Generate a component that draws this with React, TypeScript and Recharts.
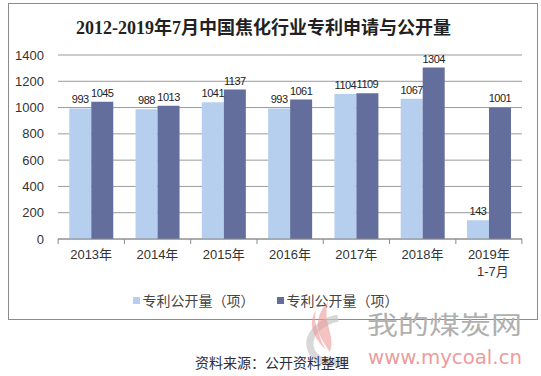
import { BarChart, Bar, XAxis, YAxis, CartesianGrid, LabelList } from 'recharts';

const categories = ['2013年', '2014年', '2015年', '2016年', '2017年', '2018年', '2019年\n1-7月'];
const applied = [993, 988, 1041, 993, 1104, 1067, 143];
const published = [1045, 1013, 1137, 1061, 1109, 1304, 1001];
const yTicks = [0, 200, 400, 600, 800, 1000, 1200, 1400];
const seriesNames = ['专利公开量（项）', '专利公开量（项）'];

const LIGHT = '#b7cfee';
const DARK = '#646e9c';
const LABEL_FONT = "'Liberation Sans', sans-serif";

const data = categories.map((name, i) => ({
  name,
  applied: applied[i],
  published: published[i],
}));

const BAND_HALF = 33;

function CategoryTick(props: any) {
  const { x, y, payload, index } = props;
  const lines = String(payload.value).split('\n');
  return (
    <g>
      <line x1={x - BAND_HALF} y1={y - 8} x2={x - BAND_HALF} y2={y - 3} stroke="#8a8a8a" />
      {index === categories.length - 1 && (
        <line x1={x + BAND_HALF} y1={y - 8} x2={x + BAND_HALF} y2={y - 3} stroke="#8a8a8a" />
      )}
      <text x={x} y={y + 12} textAnchor="middle" fill="#333" fontSize={13} fontFamily="'Liberation Sans', 'Noto Sans CJK SC', sans-serif">
        {lines.map((l, i) => (
          <tspan key={i} x={lines.length > 1 && i > 0 ? x + 4 : x} dy={i === 0 ? 0 : 17}>
            {l}
          </tspan>
        ))}
      </text>
    </g>
  );
}

export default function App() {
  return (
    <div style={{ position: 'absolute', left: 0, top: 0, width: 541, height: 376, background: '#fff', overflow: 'hidden' }}>
      <div style={{ position: 'absolute', left: 8, top: 3, width: 528, height: 315, border: '1px solid #8c8c8c' }} />
      <div
        style={{
          position: 'absolute',
          left: 0,
          top: 17,
          width: 527,
          textAlign: 'center',
          fontSize: 18,
          fontWeight: 'bold',
          color: '#222',
          fontFamily: "'Liberation Serif', 'Noto Sans CJK SC', serif",
          lineHeight: '22px',
        }}
      >
        2012-2019年7月中国焦化行业专利申请与公开量
      </div>
      <div style={{ position: 'absolute', left: 0, top: 0 }}>
        <BarChart
          width={541}
          height={320}
          data={data}
          margin={{ top: 55, right: 19, left: 8, bottom: 41 }}
          barCategoryGap="17%"
          barGap={0}
        >
          <CartesianGrid vertical={false} stroke="#9a9a9a" />
          <XAxis
            dataKey="name"
            tick={<CategoryTick />}
            tickLine={false}
            axisLine={{ stroke: '#8a8a8a' }}
            interval={0}
            height={40}
          />
          <YAxis
            domain={[0, 1400]}
            ticks={yTicks}
            width={50}
            tickLine={false}
            axisLine={false}
            tickMargin={8}
            tick={{ fill: '#333', fontSize: 13, fontFamily: "'Liberation Sans', sans-serif" }}
          />
          <Bar dataKey="applied" fill={LIGHT} isAnimationActive={false}>
            <LabelList dataKey="applied" position="top" offset={5} fill="#222" fontSize={11} letterSpacing={-0.5} fontFamily={LABEL_FONT} />
          </Bar>
          <Bar dataKey="published" fill={DARK} isAnimationActive={false}>
            <LabelList dataKey="published" position="top" offset={5} fill="#222" fontSize={11} letterSpacing={-0.5} fontFamily={LABEL_FONT} />
          </Bar>
        </BarChart>
      </div>
      <div
        style={{
          position: 'absolute',
          top: 292,
          left: 0,
          width: 541,
          display: 'flex',
          justifyContent: 'center',
          gap: 22,
          fontSize: 14,
          color: '#444',
          fontFamily: "'Noto Sans CJK SC', sans-serif",
          lineHeight: '16px',
        }}
      >
        {seriesNames.map((n, i) => (
          <div key={i} style={{ display: 'flex', alignItems: 'center', marginLeft: i === 0 ? -10 : 0 }}>
            <span style={{ display: 'inline-block', width: 7, height: 7, background: i === 0 ? LIGHT : DARK, marginRight: 3 }} />
            {n}
          </div>
        ))}
      </div>
      <svg style={{ position: 'absolute', left: 0, top: 0 }} width={541} height={376}>
        <path d="M 338 318 C 320 322 304 336 312 352 C 318 362 332 366 346 360" fill="none" stroke="#c8c8c8" strokeWidth={7} opacity={0.7} />
        <path d="M 328 302 C 312 318 318 336 326 350 C 316 340 306 326 316 310 C 312 326 322 340 330 352 C 336 336 322 322 328 302 Z" fill="#ef9a9a" opacity={0.6} />
        <text x={367} y={334} fontSize={25} textLength={155} lengthAdjust="spacingAndGlyphs" fill="#b0b0b0" fontFamily="'Noto Sans CJK SC', sans-serif">我的煤炭网</text>
        <text x={368} y={364} fontSize={19} textLength={154} lengthAdjust="spacingAndGlyphs" fill="#ec9c9c" fontFamily="'DejaVu Sans', sans-serif">www.mycoal.cn</text>
      </svg>
      <div
        style={{
          position: 'absolute',
          left: 195,
          top: 352,
          fontSize: 14,
          color: '#2b2b3b',
          fontFamily: "'Noto Sans CJK SC', sans-serif",
          lineHeight: '20px',
        }}
      >
        资料来源：公开资料整理
      </div>
    </div>
  );
}
